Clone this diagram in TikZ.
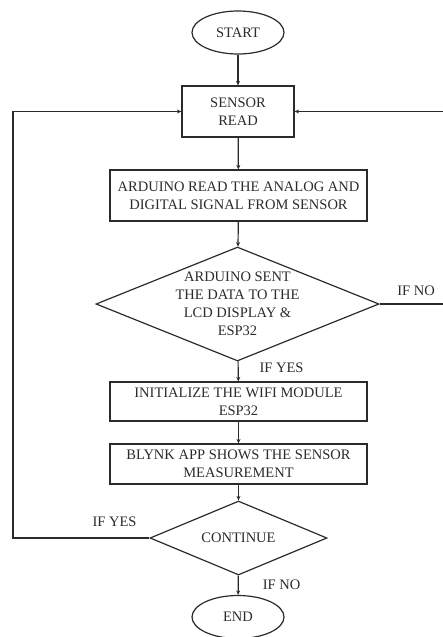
\documentclass[tikz,border=0pt]{standalone}
\usepackage{fontspec}
\setmainfont{Liberation Serif}
\usetikzlibrary{shapes.geometric,arrows.meta}
\definecolor{flowInk}{HTML}{2B2B2B}

\tikzset{
  flowbox/.style={draw=flowInk,rectangle,line width=1.2pt,align=center,inner sep=2pt},
  terminal/.style={draw=flowInk,ellipse,line width=1.2pt,minimum width=92pt,minimum height=43pt},
  decision/.style={draw=flowInk,diamond,line width=1.2pt,inner sep=0pt},
  flowline/.style={draw=flowInk,line width=1.2pt,-{Stealth[length=4.5pt,width=4pt]}}
}

\begin{document}
\begin{tikzpicture}[x=1pt,y=-1pt,font=\fontsize{14.5}{18}\selectfont,text=flowInk]
  \useasboundingbox (0,0) rectangle (443,637);

  % main column
  \node[terminal] (start) at (238,32.5) {START};
  \node[flowbox,minimum width=112pt,minimum height=51pt] (read) at (238,111.5) {SENSOR\\READ};
  \node[flowbox,minimum width=257pt,minimum height=51pt] (analog) at (238.5,195.5)
    {ARDUINO READ THE ANALOG AND\\DIGITAL SIGNAL FROM SENSOR};
  \node[decision,minimum width=283pt,minimum height=114pt,
        label={[align=center]center:ARDUINO SENT\\THE DATA TO THE\\LCD DISPLAY \&\\ESP32}] (sent) at (237.5,304) {};
  \node[flowbox,minimum width=257pt,minimum height=39pt] (wifi) at (238.5,401.5)
    {INITIALIZE THE WIFI MODULE\\ESP32};
  \node[flowbox,minimum width=257pt,minimum height=40pt] (blynk) at (238.5,464)
    {BLYNK APP SHOWS THE SENSOR\\MEASUREMENT};
  \node[decision,minimum width=177pt,minimum height=74pt,
        label={center:CONTINUE}] (cont) at (238.5,538) {};
  \node[terminal] (stop) at (238,617) {END};

  % side rails for the loops
  \coordinate (leftrail) at (13,0);
  \coordinate (rightrail) at (452,0);

  % labels
  \node (ifno1) at (416,291) {IF NO};
  \node (ifyes1) at (281.5,368) {IF YES};
  \node (ifyes2) at (114.5,522) {IF YES};
  \node (ifno2) at (281.5,585) {IF NO};

  % connectors
  \draw[flowline] (start) -- (read);
  \draw[flowline] (read) -- (analog);
  \draw[flowline] (analog) -- (sent);
  \draw[flowline] (sent) -- (wifi);
  \draw[flowline] (wifi) -- (blynk);
  \draw[flowline] (blynk) -- (cont);
  \draw[flowline] (cont) -- (stop);
  \draw[flowline] (cont.west) -- (cont.west -| leftrail) |- (read.west);
  \draw[flowline] (sent.east) -- (sent.east -| rightrail) |- (read.east);
\end{tikzpicture}
\end{document}
